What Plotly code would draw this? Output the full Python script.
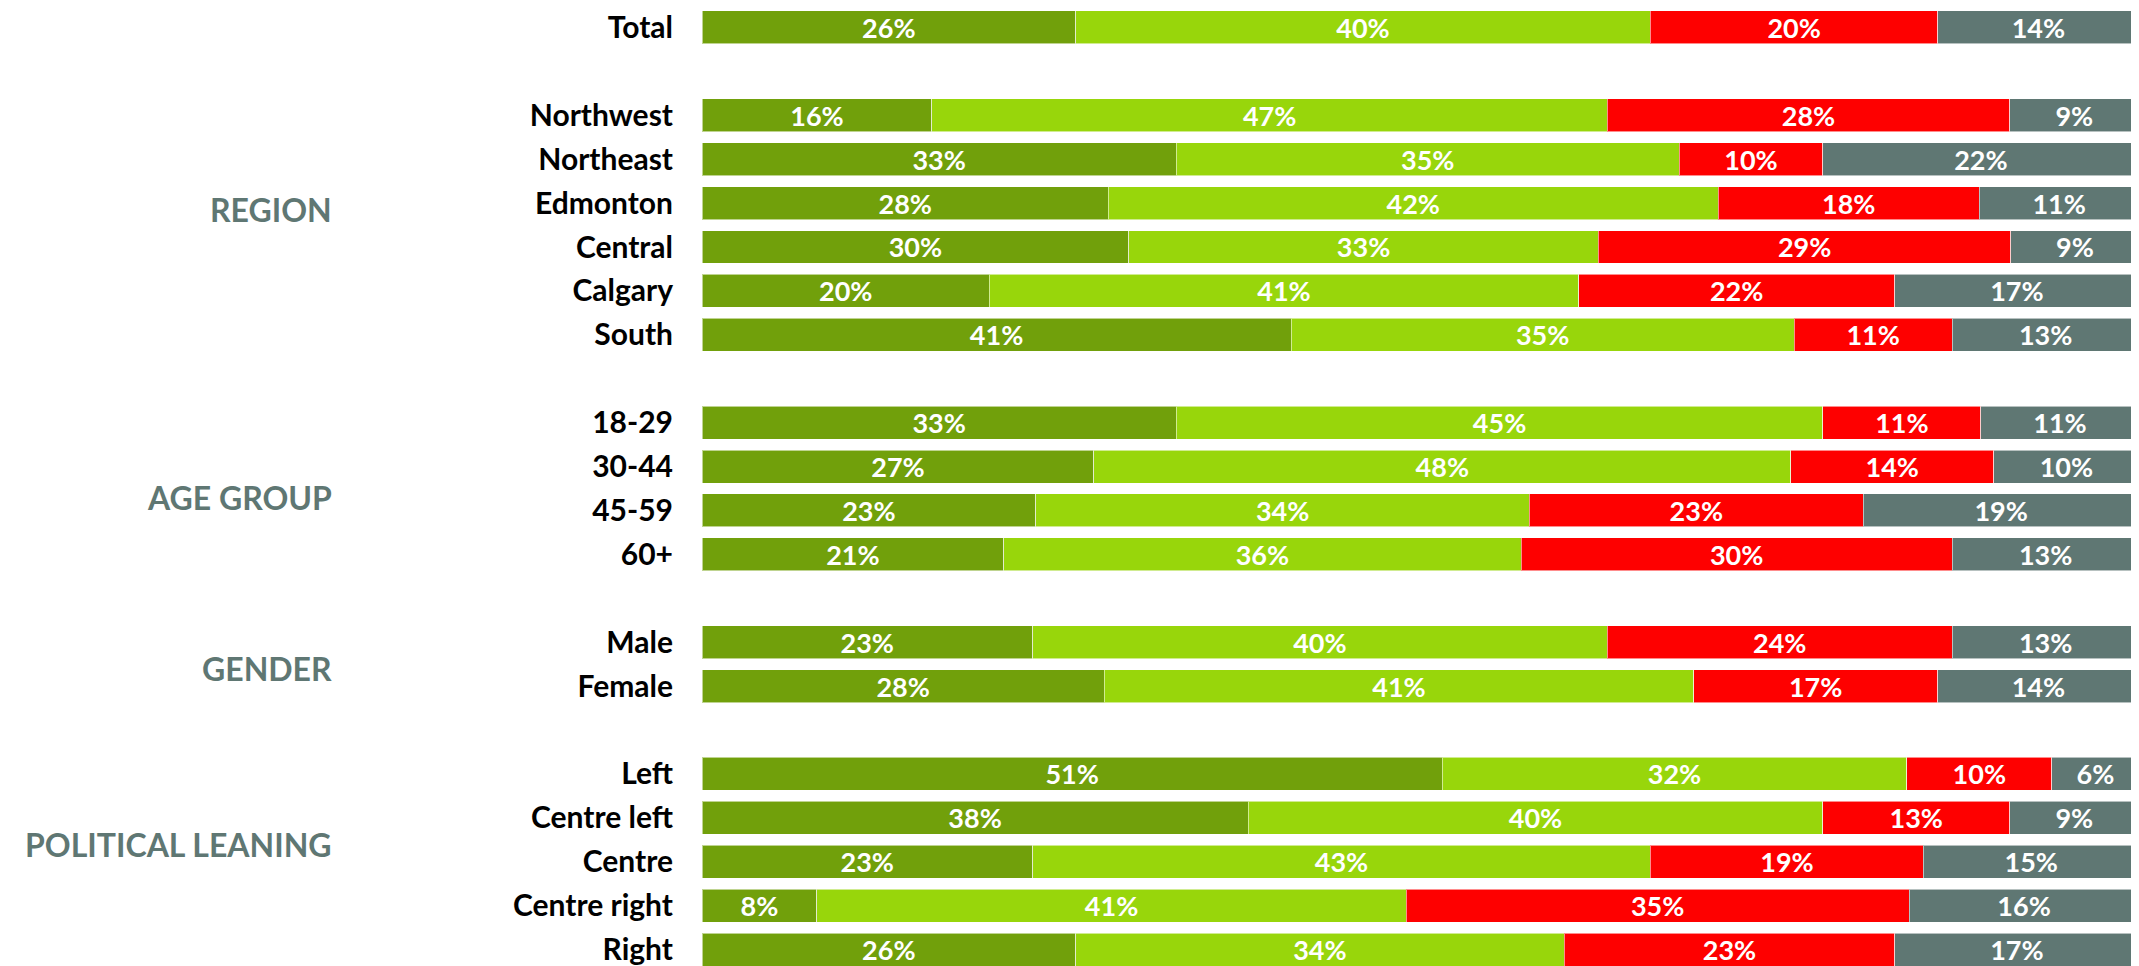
import plotly.graph_objects as go

# ---- data ----
groups = ["", "REGION", "AGE GROUP", "GENDER", "POLITICAL LEANING"]
group_rows = [
    ["Total"],
    ["Northwest", "Northeast", "Edmonton", "Central", "Calgary", "South"],
    ["18-29", "30-44", "45-59", "60+"],
    ["Male", "Female"],
    ["Left", "Centre left", "Centre", "Centre right", "Right"],
]
series_names = ["Series 1", "Series 2", "Series 3", "Series 4"]
s1 = [26, 16, 33, 28, 30, 20, 41, 33, 27, 23, 21, 23, 28, 51, 38, 23, 8, 26]
s2 = [40, 47, 35, 42, 33, 41, 35, 45, 48, 34, 36, 40, 41, 32, 40, 43, 41, 34]
s3 = [20, 28, 10, 18, 29, 22, 11, 11, 14, 23, 30, 24, 17, 10, 13, 19, 35, 23]
s4 = [14, 9, 22, 11, 9, 17, 13, 11, 10, 19, 13, 13, 14, 6, 9, 15, 16, 17]

colors = ["#71a00b", "#98d60b", "#fe0000", "#5f7773"]
label_gray = "#5f7773"

# ---- positions: one blank row between groups ----
labels, ypos = [], []
pos = 0
for g, rows in zip(groups, group_rows):
    for r in rows:
        labels.append(r)
        ypos.append(pos)
        pos += 1
    pos += 1

totals = [a + b + c + d for a, b, c, d in zip(s1, s2, s3, s4)]
series = [s1, s2, s3, s4]

fig = go.Figure()
for name, vals, col in zip(series_names, series, colors):
    shares = [v / t * 100 for v, t in zip(vals, totals)]
    fig.add_trace(go.Bar(
        name=name, orientation="h", x=shares, y=ypos, width=0.75,
        marker=dict(color=col, line=dict(color="rgba(255,255,255,0.55)", width=1)),
        text=[f"{v}%" for v in vals], textposition="inside",
        insidetextanchor="middle", constraintext="none",
        textfont=dict(family="Lato", size=27, color="white", weight="bold"),
        hoverinfo="skip", showlegend=False,
    ))

group_label_y = {"REGION": 4.14, "AGE GROUP": 10.7, "GENDER": 14.6, "POLITICAL LEANING": 18.6}
for g in groups:
    if not g:
        continue
    fig.add_annotation(
        x=0, xref="paper", y=group_label_y[g], yref="y", text=f"<b>{g}</b>",
        showarrow=False, xanchor="right", yanchor="middle", xshift=-368,
        font=dict(family="Lato", size=32, color=label_gray),
    )

fig.update_layout(
    barmode="stack", width=2131, height=958,
    margin=dict(l=694, r=0, t=0, b=0),
    paper_bgcolor="white", plot_bgcolor="white",
    xaxis=dict(range=[0, 100], visible=False, fixedrange=True),
    yaxis=dict(range=[21.3746, -0.3746], tickvals=ypos, ticktext=[f"<b>{l}</b>" for l in labels],
               tickfont=dict(family="Lato", size=30, color="black"),
               showgrid=False, zeroline=False, showline=False, ticks="",
               ticklabelstandoff=28, ticklabeloverflow="allow"),
)

fig.write_html("out.html")
